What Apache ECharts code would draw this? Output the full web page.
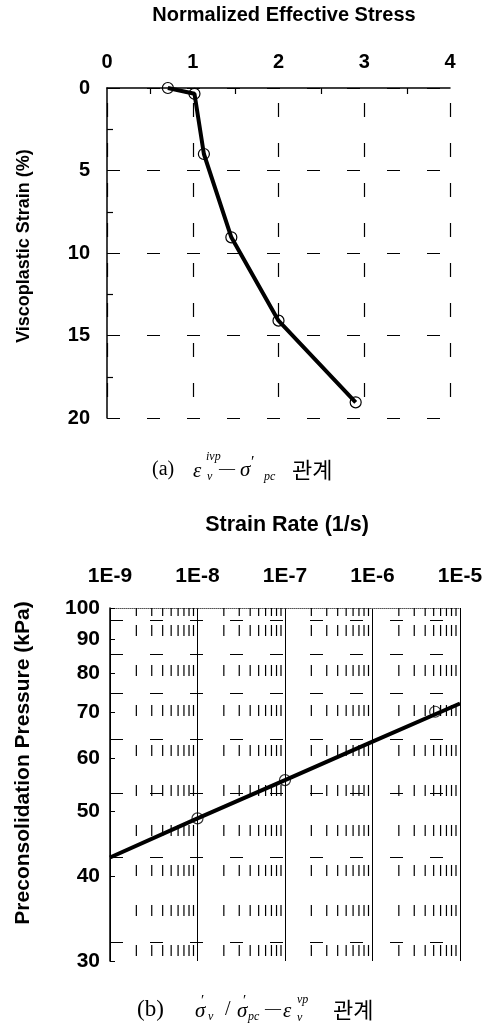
<!DOCTYPE html>
<html>
<head>
<meta charset="utf-8">
<script src="https://cdn.jsdelivr.net/npm/echarts@6/dist/echarts.min.js"></script>
<style>
  html, body { margin: 0; padding: 0; background: #fff; }
  #chart { width: 486px; height: 1025px; }
</style>
</head>
<body>
<div id="chart"></div>
<script>
// (a) viscoplastic strain vs normalized effective stress
const stressX = [0.71, 1.02, 1.13, 1.45, 2.0, 2.9]
const strainY = [0, 0.35, 4.0, 9.05, 14.1, 19.05]

// (b) preconsolidation pressure vs strain rate (fitted line + measured points)
const fitRate = [1e-9, 1e-8, 1e-7, 1e-6, 1e-5]
const fitPressure = [42.7, 48.8, 55.6, 63.4, 72.2]
const measRate = [1e-8, 1e-7, 5.2e-6]
const measPressure = [48.8, 55.6, 70.2]

const rateLabels = ['1E-9', '1E-8', '1E-7', '1E-6', '1E-5']
const pressureTicks = [30, 40, 50, 60, 70, 80, 90, 100]
// dashed horizontal grid of panel (b), as it appears in the figure
const pressureGrid = [96, 85.3, 74.7, 64, 53.1, 42.7, 32]
// dashed vertical lines inside each decade
const decadeStarts = [1e-9, 1e-8, 1e-7, 1e-6]
const minorSteps = [2, 3, 4, 5, 6, 7, 8, 9]

const SANS = "'Liberation Sans', Arial, sans-serif"
const SERIF = "'Liberation Serif', 'DejaVu Serif', serif"
const KR = "'Noto Sans CJK KR', sans-serif"

function pairs(xs, ys) {
  return xs.map((x, i) => [x, ys[i]])
}

function txt(text, x, y, size, opts) {
  opts = opts || {}
  const family = opts.family || SERIF
  const style = opts.italic ? 'italic ' : ''
  const weight = opts.bold ? 'bold ' : ''
  return {
    type: 'text',
    x: x,
    y: y,
    rotation: opts.rotate || 0,
    silent: true,
    style: {
      text: text,
      font: style + weight + size + 'px ' + family,
      fill: '#000',
      align: opts.align || 'left',
      verticalAlign: 'middle',
      textAlign: opts.align || 'left',
      textVerticalAlign: 'middle',
    },
  }
}

function captionA() {
  return [
    txt('(a)', 152, 470, 20),
    txt('ε', 193, 471, 21, { italic: true }),
    txt('ivp', 206, 457, 12, { italic: true }),
    txt('v', 207, 477, 12, { italic: true }),
    txt('—', 219, 469, 16),
    txt('σ', 240, 470, 21, { italic: true }),
    txt('′', 251, 463, 16),
    txt('pc', 264, 477, 12, { italic: true }),
    txt('관계', 292, 470, 22, { family: KR }),
  ]
}

function captionB() {
  return [
    txt('(b)', 137, 1010, 23),
    txt('σ', 195, 1011, 21, { italic: true }),
    txt('′', 201, 1001, 15),
    txt('v', 208, 1017, 12, { italic: true }),
    txt('/', 225, 1010, 20),
    txt('σ', 237, 1011, 21, { italic: true }),
    txt('′', 243, 1001, 15),
    txt('pc', 248, 1017, 12, { italic: true }),
    txt('—', 265, 1009, 16),
    txt('ε', 283, 1011, 21, { italic: true }),
    txt('vp', 297, 1000, 12, { italic: true }),
    txt('v', 297, 1018, 12, { italic: true }),
    txt('관계', 333, 1010, 22, { family: KR }),
  ]
}

// minor tick on the top axis plus a dashed line down through the plot
function minorRateLine(params, api) {
  const x = api.value(0)
  const top = api.coord([x, 100])
  const bottom = api.coord([x, 30])
  return {
    type: 'group',
    silent: true,
    children: [
      {
        type: 'line',
        shape: { x1: top[0], y1: top[1], x2: top[0], y2: top[1] + 8 },
        style: { stroke: '#000', lineWidth: 1.2 },
      },
      {
        type: 'line',
        shape: { x1: top[0], y1: top[1], x2: bottom[0], y2: bottom[1] },
        style: { stroke: '#000', lineWidth: 1.2, lineDash: [11, 29], lineDashOffset: 23 },
      },
    ],
  }
}

function buildOption() {
  const vMinor = []
  decadeStarts.forEach((d) => minorSteps.forEach((m) => vMinor.push([m * d])))
  const hGrid = pressureGrid.map((v) => ({ yAxis: v }))
  const labelA = { color: '#000', fontSize: 20, fontWeight: 'bold', fontFamily: SANS }
  const labelB = { color: '#000', fontSize: 21, fontWeight: 'bold', fontFamily: SANS }

  return {
    backgroundColor: '#fff',
    animation: false,
    grid: [
      { left: 107, top: 88, width: 343, height: 330 },
      { left: 110, top: 608, width: 350, height: 353 },
    ],
    xAxis: [
      {
        gridIndex: 0,
        type: 'value',
        position: 'top',
        min: 0,
        max: 4,
        interval: 1,
        axisLine: { lineStyle: { color: '#000', width: 1.5 } },
        axisTick: { show: false, inside: true },
        minorTick: { show: true, splitNumber: 2, length: 6, lineStyle: { color: '#000', width: 1.2 } },
        axisLabel: { ...labelA, margin: 16 },
        splitLine: { show: true, lineStyle: { color: '#000', width: 1.2, type: [14, 26], dashOffset: 25 } },
      },
      {
        gridIndex: 1,
        type: 'log',
        logBase: 10,
        position: 'top',
        min: 1e-9,
        max: 1e-5,
        axisLine: { lineStyle: { color: '#555', type: 'dotted', width: 1 } },
        axisTick: { show: false },
        axisLabel: { ...labelB, margin: 21, formatter: (v, i) => rateLabels[i] },
        splitLine: { show: true, lineStyle: { color: '#000', width: 1 } },
      },
    ],
    yAxis: [
      {
        gridIndex: 0,
        type: 'value',
        inverse: true,
        min: 0,
        max: 20,
        interval: 5,
        axisLine: { lineStyle: { color: '#000', width: 1.5 } },
        axisTick: { show: false, inside: true },
        minorTick: { show: true, splitNumber: 2, length: 6, lineStyle: { color: '#000', width: 1.2 } },
        axisLabel: { ...labelA, margin: 17 },
        splitLine: { show: true, lineStyle: { color: '#000', width: 1.2, type: [13, 27] } },
      },
      {
        gridIndex: 1,
        type: 'log',
        logBase: 10,
        min: 30,
        max: 100,
        axisLine: { lineStyle: { color: '#000', width: 1.5 } },
        axisTick: { show: true, inside: true, length: 5, customValues: pressureTicks, lineStyle: { color: '#000' } },
        axisLabel: { ...labelB, margin: 10, customValues: pressureTicks },
        splitLine: { show: false },
      },
    ],
    graphic: [
      txt('Normalized Effective Stress', 284, 15, 20, { family: SANS, bold: true, align: 'center' }),
      txt('Viscoplastic Strain (%)', 24, 246, 18, { family: SANS, bold: true, align: 'center', rotate: Math.PI / 2 }),
      txt('Strain Rate (1/s)', 287, 525, 21.5, { family: SANS, bold: true, align: 'center' }),
      txt('Preconsolidation Pressure (kPa)', 23, 763, 21, { family: SANS, bold: true, align: 'center', rotate: Math.PI / 2 }),
      ...captionA(),
      ...captionB(),
    ],
    series: [
      {
        name: 'strain',
        type: 'line',
        xAxisIndex: 0,
        yAxisIndex: 0,
        data: pairs(stressX, strainY),
        symbol: 'circle',
        symbolSize: 11,
        lineStyle: { color: '#000', width: 4 },
        itemStyle: { color: 'rgba(0,0,0,0)', borderColor: '#000', borderWidth: 1.2 },
        z: 5,
      },
      {
        name: 'minor-rate',
        type: 'custom',
        xAxisIndex: 1,
        yAxisIndex: 1,
        data: vMinor,
        encode: { x: 0 },
        renderItem: minorRateLine,
        silent: true,
        clip: true,
        z: 1,
      },
      {
        name: 'grid-b',
        type: 'line',
        xAxisIndex: 1,
        yAxisIndex: 1,
        data: [],
        silent: true,
        z: 1,
        markLine: {
          silent: true,
          symbol: 'none',
          label: { show: false },
          animation: false,
          lineStyle: { color: '#000', width: 1.2, type: [13, 27] },
          data: hGrid,
        },
      },
      {
        name: 'fit',
        type: 'line',
        xAxisIndex: 1,
        yAxisIndex: 1,
        data: pairs(fitRate, fitPressure),
        showSymbol: false,
        lineStyle: { color: '#000', width: 4 },
        z: 5,
      },
      {
        name: 'measured',
        type: 'scatter',
        xAxisIndex: 1,
        yAxisIndex: 1,
        data: pairs(measRate, measPressure),
        symbol: 'circle',
        symbolSize: 11,
        itemStyle: { color: 'rgba(0,0,0,0)', borderColor: '#000', borderWidth: 1.2 },
        z: 6,
      },
    ],
  }
}

const chart = echarts.init(document.getElementById('chart'), null, { renderer: 'canvas' })
chart.setOption(buildOption())
</script>
</body>
</html>
